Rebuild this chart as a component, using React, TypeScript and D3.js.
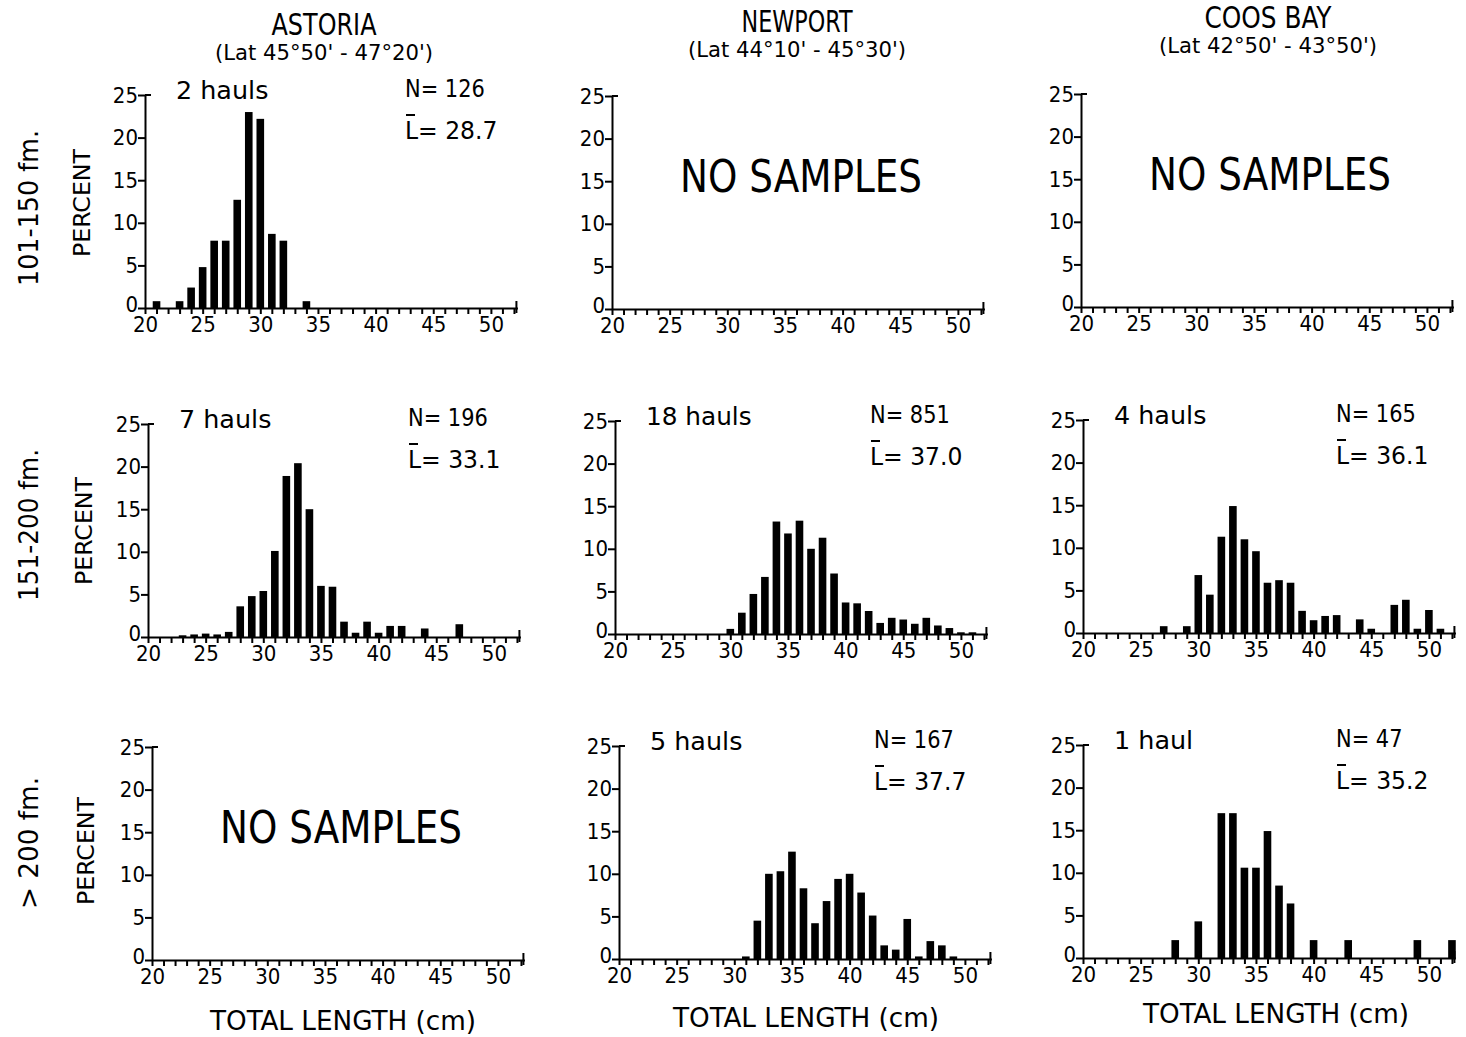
import React, { useEffect, useRef } from 'react';
import * as d3 from 'd3';

// total length classes (cm), one bar per class
const lengths = [20, 21, 22, 23, 24, 25, 26, 27, 28, 29, 30, 31, 32, 33, 34, 35, 36, 37, 38, 39, 40, 41, 42, 43, 44, 45, 46, 47, 48, 49, 50, 51, 52];

// percent frequency per length class
const astoria101 = [0, 0.8, 0, 0.8, 2.4, 4.8, 7.9, 7.9, 12.7, 23.0, 22.2, 8.7, 7.9, 0, 0.8, 0, 0, 0, 0, 0, 0, 0, 0, 0, 0, 0, 0, 0, 0, 0, 0, 0, 0];
const astoria151 = [0, 0, 0, 0.2, 0.3, 0.4, 0.3, 0.6, 3.6, 4.8, 5.4, 10.1, 18.9, 20.4, 15.0, 6.0, 5.9, 1.8, 0.5, 1.8, 0.5, 1.3, 1.3, 0, 1.0, 0, 0, 1.5, 0, 0, 0, 0, 0];
const newport151 = [0, 0, 0, 0, 0, 0, 0, 0, 0, 0, 0.6, 2.5, 4.7, 6.7, 13.2, 11.8, 13.3, 10.0, 11.3, 7.1, 3.7, 3.6, 2.7, 1.3, 1.9, 1.7, 1.2, 1.9, 1.0, 0.7, 0.2, 0.2, 0];
const coos151 = [0, 0, 0, 0, 0, 0, 0, 0.8, 0, 0.8, 6.8, 4.5, 11.3, 14.9, 11.0, 9.6, 5.9, 6.2, 5.9, 2.6, 1.5, 2.0, 2.1, 0, 1.6, 0.5, 0, 3.3, 3.9, 0.5, 2.7, 0.5, 0];
const newport200 = [0, 0, 0, 0, 0, 0, 0, 0, 0, 0, 0, 0.3, 4.5, 10.0, 10.3, 12.6, 8.3, 4.2, 6.8, 9.4, 10.0, 7.8, 5.1, 1.6, 1.1, 4.7, 0.3, 2.1, 1.6, 0.3, 0, 0, 0];
const coos200 = [0, 0, 0, 0, 0, 0, 0, 0, 2.1, 0, 4.3, 0, 17.0, 17.0, 10.6, 10.6, 14.9, 8.5, 6.4, 0, 2.1, 0, 0, 2.1, 0, 0, 0, 0, 0, 2.1, 0, 0, 2.1];

const ports = ['ASTORIA', 'NEWPORT', 'COOS BAY'];
const latitudes = ["(Lat 45°50' - 47°20')", "(Lat 44°10' - 45°30')", "(Lat 42°50' - 43°50')"];
const depths = ['101-150 fm.', '151-200 fm.', '> 200 fm.'];
const percentTicks = [0, 5, 10, 15, 20, 25];

// row-major: depth rows x port columns
const panels = [
  { row: 0, col: 0, values: astoria101, hauls: '2 hauls', n: '126', mean: '28.7' },
  { row: 0, col: 1, values: null },
  { row: 0, col: 2, values: null },
  { row: 1, col: 0, values: astoria151, hauls: '7 hauls', n: '196', mean: '33.1' },
  { row: 1, col: 1, values: newport151, hauls: '18 hauls', n: '851', mean: '37.0' },
  { row: 1, col: 2, values: coos151, hauls: '4 hauls', n: '165', mean: '36.1' },
  { row: 2, col: 0, values: null },
  { row: 2, col: 1, values: newport200, hauls: '5 hauls', n: '167', mean: '37.7' },
  { row: 2, col: 2, values: coos200, hauls: '1 haul', n: '47', mean: '35.2' },
];

// plot origins (x of length 20, y of 0 percent)
const originX = [[145, 612, 1081], [148, 615, 1083], [152, 619, 1083]];
const originY = [[308, 309, 307], [637, 634, 633], [960, 959, 958]];
const FONT = "'Liberation Sans Narrow', 'DejaVu Sans Condensed', 'DejaVu Sans', sans-serif";

const App = () => {
  const ref = useRef(null);

  useEffect(() => {
    const svg = d3.select(ref.current);
    svg.selectAll('*').remove();

    const pxPerCm = 11.53;
    const plotH = 213;

    const fitText = (g, x, y, str, size, width, anchor = 'start') => {
      const t = g.append('text')
        .attr('x', x).attr('y', y)
        .attr('font-family', FONT)
        .attr('font-size', size)
        .attr('text-anchor', anchor)
        .style('font-stretch', 'condensed')
        .attr('fill', '#000')
        .text(str);
      if (width) t.attr('textLength', width).attr('lengthAdjust', 'spacingAndGlyphs');
      return t;
    };

    // column titles
    const titleCx = [324, 797, 1268];
    const titleBase = [35, 32, 28];
    const titleW = [105, 111, 127];
    ports.forEach((p, i) => {
      fitText(svg, titleCx[i] - titleW[i] / 2, titleBase[i], p, 30, titleW[i]);
      fitText(svg, titleCx[i] - 109, titleBase[i] + 25, latitudes[i], 21, 218);
    });

    // depth + PERCENT labels along the left
    const depthCy = [208, 525, 843];
    const depthLen = [156, 152, 132];
    const pctCy = [203, 531, 851];
    depths.forEach((d, i) => {
      const g1 = svg.append('g').attr('transform', `translate(38,${depthCy[i]}) rotate(-90)`);
      fitText(g1, -depthLen[i] / 2, 0, d, 27, depthLen[i]);
      const g2 = svg.append('g').attr('transform', `translate(${90 + i * 2},${pctCy[i]}) rotate(-90)`);
      fitText(g2, -54, 0, 'PERCENT', 23, 108);
    });

    // x-axis titles
    const xtBase = [1030, 1027, 1023];
    const xtLeft = [210, 673, 1143];
    xtBase.forEach((b, i) => fitText(svg, xtLeft[i], b, 'TOTAL LENGTH  (cm)', 26, 266));

    const nX = [260, 255, 253];

    panels.forEach(p => {
      const ox = originX[p.row][p.col];
      const oy = originY[p.row][p.col];
      const x = d3.scaleLinear().domain([20, 52.3]).range([ox, ox + 32.3 * pxPerCm]);
      const y = d3.scaleLinear().domain([0, 25]).range([oy, oy - plotH]);
      const g = svg.append('g');

      if (p.values) {
        const data = lengths.map((l, i) => ({ len: l, pct: p.values[i] })).filter(d => d.pct > 0);
        g.selectAll('.bar')
          .data(data)
          .enter()
          .append('rect')
          .attr('class', 'bar')
          .attr('x', d => x(d.len - 0.33))
          .attr('width', x(20.66) - x(20))
          .attr('y', d => y(d.pct))
          .attr('height', d => y(0) - y(d.pct))
          .attr('fill', '#000');
      }

      const xAxis = g.append('g')
        .attr('transform', `translate(0,${oy})`)
        .call(d3.axisBottom(x).tickValues(lengths).tickSize(6).tickSizeOuter(0)
          .tickFormat(d => (d % 5 === 0 ? String(d) : '')));
      xAxis.select('.domain').attr('stroke-width', 2);
      xAxis.selectAll('.tick line').attr('stroke-width', 2);
      xAxis.selectAll('.tick text')
        .attr('font-family', FONT).attr('font-size', 22).attr('fill', '#000')
        .style('font-stretch', 'condensed')
        .attr('y', 7).attr('dy', '0.75em');
      // small upturned tick at the end of the axis
      g.append('line')
        .attr('x1', x(52.3) - 1).attr('x2', x(52.3) - 1)
        .attr('y1', oy + 5).attr('y2', oy - 7)
        .attr('stroke', '#000').attr('stroke-width', 2);

      const yAxis = g.append('g')
        .attr('transform', `translate(${ox},0)`)
        .call(d3.axisLeft(y).tickValues(percentTicks).tickSize(7).tickSizeOuter(0).tickPadding(0));
      yAxis.select('.domain').attr('stroke-width', 2);
      yAxis.selectAll('.tick line').attr('stroke-width', 2);
      yAxis.selectAll('.tick text')
        .attr('font-family', FONT).attr('font-size', 22).attr('fill', '#000')
        .style('font-stretch', 'condensed')
        .attr('y', d => (d === 0 ? -4 : 0));
      // top tick crosses the axis
      g.append('line')
        .attr('x1', ox).attr('x2', ox + 6)
        .attr('y1', y(25)).attr('y2', y(25))
        .attr('stroke', '#000').attr('stroke-width', 2);

      if (p.values) {
        fitText(g, ox + 31, oy - 209, p.hauls, 25, p.hauls.length * 13.2);
        const nStr = `N= ${p.n}`;
        fitText(g, ox + nX[p.col], oy - 211, nStr, 25, nStr.length * 13.3);
        const lStr = `L= ${p.mean}`;
        fitText(g, ox + nX[p.col], oy - 169, lStr, 25, lStr.length * 13.2);
        g.append('line')
          .attr('x1', ox + nX[p.col] + 1).attr('x2', ox + nX[p.col] + 10)
          .attr('y1', oy - 193).attr('y2', oy - 193)
          .attr('stroke', '#000').attr('stroke-width', 2);
      } else {
        fitText(g, ox + 68, oy - 117, 'NO SAMPLES', 44, 242);
      }
    });
  }, []);

  return (
    <svg
      ref={ref}
      width={1466}
      height={1037}
      style={{ position: 'absolute', left: 0, top: 0, background: '#fff' }}
    />
  );
};

export default App;
